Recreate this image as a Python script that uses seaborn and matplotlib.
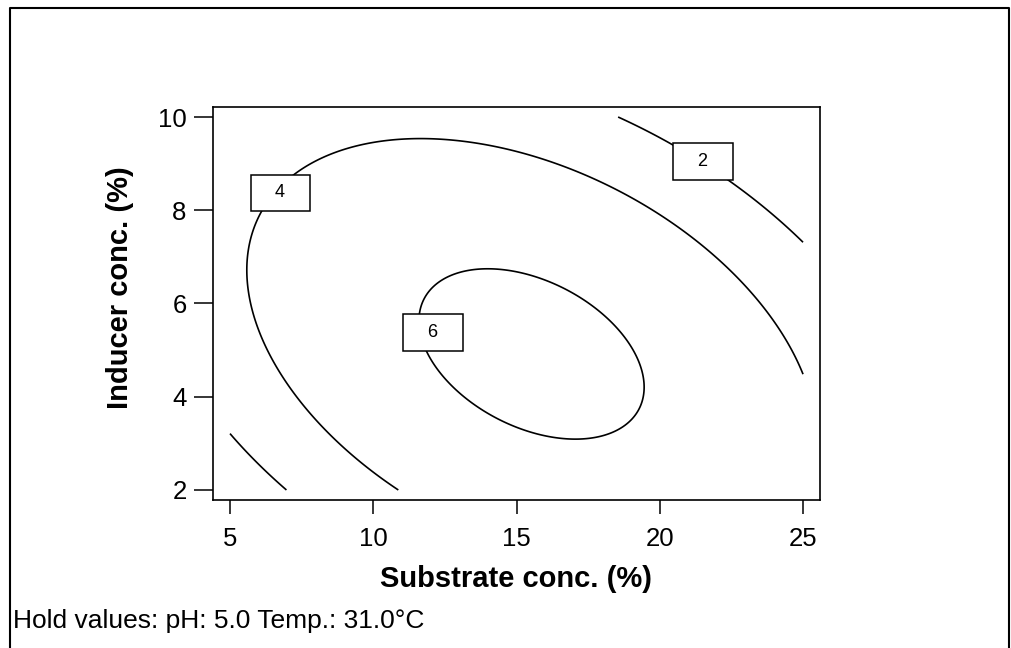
import numpy as np
import pandas as pd
import seaborn as sns
import matplotlib.pyplot as plt
from matplotlib.lines import Line2D

# points: substrate conc. (%), inducer conc. (%)
level6_x = [14.19, 11.82, 12.00, 13.63, 16.33, 18.81, 19.41, 18.81, 17.23, 15.43]
level6_y = [6.69, 6.13, 4.93, 3.91, 3.11, 3.47, 4.36, 5.33, 6.13, 6.60]
level4_x = [6.08, 5.63, 5.97, 7.09, 8.90, 10.77, 9.12, 11.60, 15.65, 18.02, 21.73, 23.54, 25.00]
level4_y = [7.96, 6.67, 5.42, 4.09, 2.93, 2.02, 9.33, 9.53, 9.17, 8.58, 7.16, 6.04, 4.49]
level2_x = [18.54, 20.38, 22.64, 23.99, 25.00, 5.00, 6.08, 6.94]
level2_y = [9.98, 9.47, 8.53, 7.82, 7.31, 3.22, 2.53, 2.02]

levels = [2, 4, 6]
x_ticks = [5, 10, 15, 20, 25]
y_ticks = [2, 4, 6, 8, 10]


def fit_surface(df):
    # second order response surface through the read contour points
    x, y = df.x.values, df.y.values
    A = np.column_stack([np.ones_like(x), x, y, x ** 2, y ** 2, x * y])
    coef, *_ = np.linalg.lstsq(A, df.z.values, rcond=None)
    return coef


pts = pd.concat([
    pd.DataFrame({"x": level6_x, "y": level6_y, "z": 6}),
    pd.DataFrame({"x": level4_x, "y": level4_y, "z": 4}),
    pd.DataFrame({"x": level2_x, "y": level2_y, "z": 2}),
])
b = fit_surface(pts)

xs = np.linspace(min(x_ticks), max(x_ticks), 300)
ys = np.linspace(min(y_ticks), max(y_ticks), 300)
X, Y = np.meshgrid(xs, ys)
Z = b[0] + b[1] * X + b[2] * Y + b[3] * X ** 2 + b[4] * Y ** 2 + b[5] * X * Y

sns.set_theme(style="ticks")
plt.rcParams["font.family"] = ["Liberation Sans", "DejaVu Sans"]
plt.rcParams["text.color"] = "black"
plt.rcParams["axes.labelcolor"] = "black"

fig = plt.figure(figsize=(10.11, 6.48), dpi=100)
ax = fig.add_axes([0.2107, 0.2284, 0.6004, 0.6065])

ax.contour(X, Y, Z, levels=levels, colors="black", linewidths=1.2)

# boxed contour labels, placed where the reference puts them
label_pos = {2: (21.5, 9.04), 4: (6.76, 8.37), 6: (12.09, 5.38)}
for lv, (lx, ly) in label_pos.items():
    ax.text(lx, ly, f"   {lv}   ", ha="center", va="center", fontsize=13, zorder=5,
            bbox=dict(boxstyle="square,pad=0.55", fc="white", ec="black", lw=1.1))

ax.set_xlim(4.407, 25.593)
ax.set_ylim(1.785, 10.215)
ax.set_xticks(x_ticks)
ax.set_yticks(y_ticks)
for s in ax.spines.values():
    s.set_linewidth(1.2)
    s.set_color("black")
ax.tick_params(axis="y", length=14, width=1.1, pad=5, labelsize=18.5, colors="black")
ax.tick_params(axis="x", length=10, width=1.1, pad=9.5, labelsize=18.5, colors="black")

ax.set_xlabel("Substrate conc. (%)", fontsize=21, fontweight="bold")
ax.set_ylabel("Inducer conc. (%)", fontsize=21, fontweight="bold")
ax.xaxis.set_label_coords(0.4984, -0.1654)
ax.yaxis.set_label_coords(-0.130, 0.5394)

fig.text(13 / 1011, 1 - 628 / 648, "Hold values: pH: 5.0 Temp.: 31.0°C",
         fontsize=19, ha="left", va="baseline", color="black")

# outer frame of the exported graph
W, H = 1011, 648
fx = [10 / W, 10 / W, 1008.5 / W, 1008.5 / W]
fy = [0, 1 - 8 / H, 1 - 8 / H, 0]
fig.add_artist(Line2D(fx, fy, transform=fig.transFigure, color="black", lw=1.5))

fig.savefig("out.png", dpi=100)
